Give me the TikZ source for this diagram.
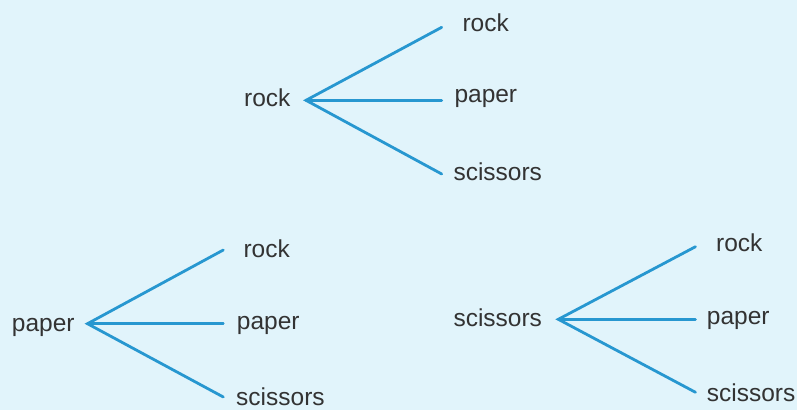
\documentclass[tikz,border=0pt]{standalone}
\usepackage{fontspec}
\setmainfont{Liberation Sans}
\definecolor{bgc}{HTML}{E1F4FB}
\definecolor{linec}{HTML}{2797D0}
\definecolor{txtc}{HTML}{333333}
\begin{document}
\begin{tikzpicture}[x=1pt,y=-1pt,
  lbl/.style={anchor=base west,inner sep=0pt,text=txtc,font=\fontsize{24.5}{27}\selectfont},
  branch/.style={draw=linec,line width=2.8pt,line cap=round}]
\fill[bgc] (0,0) rectangle (797,410);
\useasboundingbox (0,0) rectangle (797,410);
% tree 1
\node[lbl] (t1root) at (244,106.7) {rock};
\node[lbl] (t1a) at (462.3,31.7) {rock};
\node[lbl] (t1b) at (454.3,102) {paper};
\node[lbl] (t1c) at (453.3,180.7) {scissors};
\coordinate (o1) at (306,100.3);
\coordinate (e1a) at (441.7,27.3);
\coordinate (e1b) at (441.7,100.3);
\coordinate (e1c) at (441.7,174);
\draw[branch] (e1a) -- (o1) -- (e1c);
\draw[branch] (o1) -- (e1b);
% tree 2
\node[lbl] (t2root) at (11.7,331.7) {paper};
\node[lbl] (t2a) at (243.3,257.7) {rock};
\node[lbl] (t2b) at (236.7,329.3) {paper};
\node[lbl] (t2c) at (236,405.2) {scissors};
\coordinate (o2) at (87.5,323.7);
\coordinate (e2a) at (223.3,250);
\coordinate (e2b) at (223.3,323.7);
\coordinate (e2c) at (223.3,397);
\draw[branch] (e2a) -- (o2) -- (e2c);
\draw[branch] (o2) -- (e2b);
% tree 3
\node[lbl] (t3root) at (453.3,326) {scissors};
\node[lbl] (t3a) at (716,251.7) {rock};
\node[lbl] (t3b) at (706.7,324) {paper};
\node[lbl] (t3c) at (706.7,401.7) {scissors};
\coordinate (o3) at (558.3,319.3);
\coordinate (e3a) at (695.5,246.7);
\coordinate (e3b) at (695.5,319.3);
\coordinate (e3c) at (695.5,392.3);
\draw[branch] (e3a) -- (o3) -- (e3c);
\draw[branch] (o3) -- (e3b);
\end{tikzpicture}
\end{document}
